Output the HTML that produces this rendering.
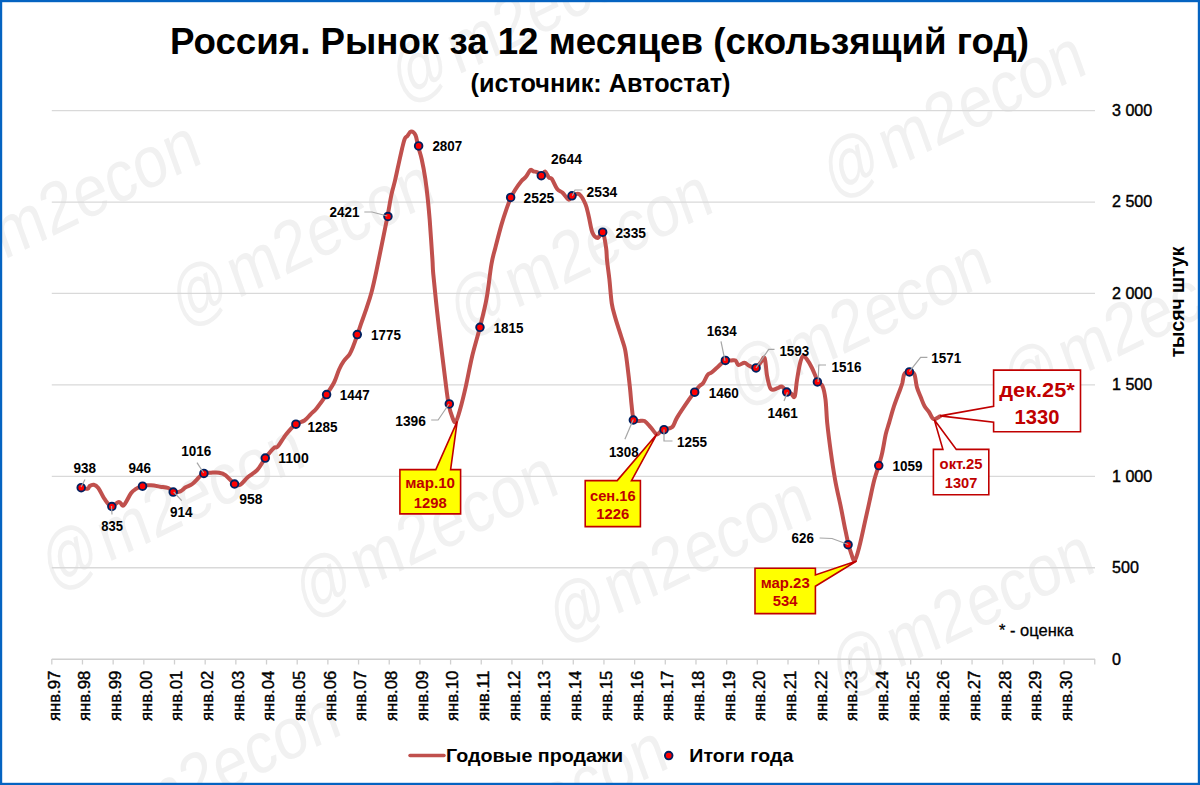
<!DOCTYPE html><html><head><meta charset="utf-8"><style>html,body{margin:0;padding:0;background:#fff;overflow:hidden;}svg{display:block;}text{font-family:"Liberation Sans",sans-serif;}</style></head><body>
<svg width="1200" height="785" viewBox="0 0 1200 785">
<rect x="0" y="0" width="1200" height="785" fill="#fff"/>
<g transform="translate(402.2 102.2) scale(1 1.16) rotate(-22.85)" fill="#f1f1f1" font-size="63"><text x="0" y="0" transform="scale(0.86 1)">@</text><text x="60.0" y="0" textLength="217.4" lengthAdjust="spacingAndGlyphs">m2econ</text></g>
<g transform="translate(833.8 197.7) scale(1 1.16) rotate(-22.85)" fill="#f1f1f1" font-size="63"><text x="0" y="0" transform="scale(0.86 1)">@</text><text x="60.0" y="0" textLength="217.4" lengthAdjust="spacingAndGlyphs">m2econ</text></g>
<g transform="translate(182.2 326.0) scale(1 1.16) rotate(-22.85)" fill="#f1f1f1" font-size="63"><text x="0" y="0" transform="scale(0.86 1)">@</text><text x="60.0" y="0" textLength="217.4" lengthAdjust="spacingAndGlyphs">m2econ</text></g>
<g transform="translate(460.5 336.0) scale(1 1.16) rotate(-22.85)" fill="#f1f1f1" font-size="63"><text x="0" y="0" transform="scale(0.86 1)">@</text><text x="60.0" y="0" textLength="217.4" lengthAdjust="spacingAndGlyphs">m2econ</text></g>
<g transform="translate(739.5 405.2) scale(1 1.16) rotate(-22.85)" fill="#f1f1f1" font-size="63"><text x="0" y="0" transform="scale(0.86 1)">@</text><text x="60.0" y="0" textLength="217.4" lengthAdjust="spacingAndGlyphs">m2econ</text></g>
<g transform="translate(1013.8 408.2) scale(1 1.16) rotate(-22.85)" fill="#f1f1f1" font-size="63"><text x="0" y="0" transform="scale(0.86 1)">@</text><text x="60.0" y="0" textLength="217.4" lengthAdjust="spacingAndGlyphs">m2econ</text></g>
<g transform="translate(52.5 589.7) scale(1 1.16) rotate(-22.85)" fill="#f1f1f1" font-size="63"><text x="0" y="0" transform="scale(0.86 1)">@</text><text x="60.0" y="0" textLength="217.4" lengthAdjust="spacingAndGlyphs">m2econ</text></g>
<g transform="translate(306.0 617.3) scale(1 1.16) rotate(-22.85)" fill="#f1f1f1" font-size="63"><text x="0" y="0" transform="scale(0.86 1)">@</text><text x="60.0" y="0" textLength="217.4" lengthAdjust="spacingAndGlyphs">m2econ</text></g>
<g transform="translate(559.8 642.5) scale(1 1.16) rotate(-22.85)" fill="#f1f1f1" font-size="63"><text x="0" y="0" transform="scale(0.86 1)">@</text><text x="60.0" y="0" textLength="217.4" lengthAdjust="spacingAndGlyphs">m2econ</text></g>
<g transform="translate(842.3 695.7) scale(1 1.16) rotate(-22.85)" fill="#f1f1f1" font-size="63"><text x="0" y="0" transform="scale(0.86 1)">@</text><text x="60.0" y="0" textLength="217.4" lengthAdjust="spacingAndGlyphs">m2econ</text></g>
<g transform="translate(88.5 858.5) scale(1 1.16) rotate(-22.85)" fill="#f1f1f1" font-size="63"><text x="0" y="0" transform="scale(0.86 1)">@</text><text x="60.0" y="0" textLength="217.4" lengthAdjust="spacingAndGlyphs">m2econ</text></g>
<g transform="translate(415.6 891.9) scale(1 1.16) rotate(-22.85)" fill="#f1f1f1" font-size="63"><text x="0" y="0" transform="scale(0.86 1)">@</text><text x="60.0" y="0" textLength="217.4" lengthAdjust="spacingAndGlyphs">m2econ</text></g>
<g transform="translate(-51.4 287.1) scale(1 1.16) rotate(-22.85)" fill="#f1f1f1" font-size="63"><text x="0" y="0" transform="scale(0.86 1)">@</text><text x="60.0" y="0" textLength="217.4" lengthAdjust="spacingAndGlyphs">m2econ</text></g>
<line x1="51.8" y1="110.60" x2="1095" y2="110.60" stroke="#d9d9d9" stroke-width="1.3"/>
<line x1="51.8" y1="202.03" x2="1095" y2="202.03" stroke="#d9d9d9" stroke-width="1.3"/>
<line x1="51.8" y1="293.47" x2="1095" y2="293.47" stroke="#d9d9d9" stroke-width="1.3"/>
<line x1="51.8" y1="384.90" x2="1095" y2="384.90" stroke="#d9d9d9" stroke-width="1.3"/>
<line x1="51.8" y1="476.33" x2="1095" y2="476.33" stroke="#d9d9d9" stroke-width="1.3"/>
<line x1="51.8" y1="567.77" x2="1095" y2="567.77" stroke="#d9d9d9" stroke-width="1.3"/>
<line x1="51.8" y1="659.20" x2="1095" y2="659.20" stroke="#d0d0d0" stroke-width="1.5"/>
<line x1="51.80" y1="659" x2="51.80" y2="664.5" stroke="#d0d0d0" stroke-width="1.3"/>
<line x1="82.47" y1="659" x2="82.47" y2="664.5" stroke="#d0d0d0" stroke-width="1.3"/>
<line x1="113.15" y1="659" x2="113.15" y2="664.5" stroke="#d0d0d0" stroke-width="1.3"/>
<line x1="143.82" y1="659" x2="143.82" y2="664.5" stroke="#d0d0d0" stroke-width="1.3"/>
<line x1="174.50" y1="659" x2="174.50" y2="664.5" stroke="#d0d0d0" stroke-width="1.3"/>
<line x1="205.18" y1="659" x2="205.18" y2="664.5" stroke="#d0d0d0" stroke-width="1.3"/>
<line x1="235.85" y1="659" x2="235.85" y2="664.5" stroke="#d0d0d0" stroke-width="1.3"/>
<line x1="266.52" y1="659" x2="266.52" y2="664.5" stroke="#d0d0d0" stroke-width="1.3"/>
<line x1="297.20" y1="659" x2="297.20" y2="664.5" stroke="#d0d0d0" stroke-width="1.3"/>
<line x1="327.88" y1="659" x2="327.88" y2="664.5" stroke="#d0d0d0" stroke-width="1.3"/>
<line x1="358.55" y1="659" x2="358.55" y2="664.5" stroke="#d0d0d0" stroke-width="1.3"/>
<line x1="389.23" y1="659" x2="389.23" y2="664.5" stroke="#d0d0d0" stroke-width="1.3"/>
<line x1="419.90" y1="659" x2="419.90" y2="664.5" stroke="#d0d0d0" stroke-width="1.3"/>
<line x1="450.58" y1="659" x2="450.58" y2="664.5" stroke="#d0d0d0" stroke-width="1.3"/>
<line x1="481.25" y1="659" x2="481.25" y2="664.5" stroke="#d0d0d0" stroke-width="1.3"/>
<line x1="511.93" y1="659" x2="511.93" y2="664.5" stroke="#d0d0d0" stroke-width="1.3"/>
<line x1="542.60" y1="659" x2="542.60" y2="664.5" stroke="#d0d0d0" stroke-width="1.3"/>
<line x1="573.27" y1="659" x2="573.27" y2="664.5" stroke="#d0d0d0" stroke-width="1.3"/>
<line x1="603.95" y1="659" x2="603.95" y2="664.5" stroke="#d0d0d0" stroke-width="1.3"/>
<line x1="634.62" y1="659" x2="634.62" y2="664.5" stroke="#d0d0d0" stroke-width="1.3"/>
<line x1="665.30" y1="659" x2="665.30" y2="664.5" stroke="#d0d0d0" stroke-width="1.3"/>
<line x1="695.98" y1="659" x2="695.98" y2="664.5" stroke="#d0d0d0" stroke-width="1.3"/>
<line x1="726.65" y1="659" x2="726.65" y2="664.5" stroke="#d0d0d0" stroke-width="1.3"/>
<line x1="757.32" y1="659" x2="757.32" y2="664.5" stroke="#d0d0d0" stroke-width="1.3"/>
<line x1="788.00" y1="659" x2="788.00" y2="664.5" stroke="#d0d0d0" stroke-width="1.3"/>
<line x1="818.67" y1="659" x2="818.67" y2="664.5" stroke="#d0d0d0" stroke-width="1.3"/>
<line x1="849.35" y1="659" x2="849.35" y2="664.5" stroke="#d0d0d0" stroke-width="1.3"/>
<line x1="880.02" y1="659" x2="880.02" y2="664.5" stroke="#d0d0d0" stroke-width="1.3"/>
<line x1="910.70" y1="659" x2="910.70" y2="664.5" stroke="#d0d0d0" stroke-width="1.3"/>
<line x1="941.38" y1="659" x2="941.38" y2="664.5" stroke="#d0d0d0" stroke-width="1.3"/>
<line x1="972.05" y1="659" x2="972.05" y2="664.5" stroke="#d0d0d0" stroke-width="1.3"/>
<line x1="1002.73" y1="659" x2="1002.73" y2="664.5" stroke="#d0d0d0" stroke-width="1.3"/>
<line x1="1033.40" y1="659" x2="1033.40" y2="664.5" stroke="#d0d0d0" stroke-width="1.3"/>
<line x1="1064.08" y1="659" x2="1064.08" y2="664.5" stroke="#d0d0d0" stroke-width="1.3"/>
<line x1="1094.75" y1="659" x2="1094.75" y2="664.5" stroke="#d0d0d0" stroke-width="1.3"/>
<text x="1112" y="116.00" font-size="16.1" fill="#000" stroke="#000" stroke-width="0.4">3 000</text>
<text x="1112" y="207.43" font-size="16.1" fill="#000" stroke="#000" stroke-width="0.4">2 500</text>
<text x="1112" y="298.87" font-size="16.1" fill="#000" stroke="#000" stroke-width="0.4">2 000</text>
<text x="1112" y="390.30" font-size="16.1" fill="#000" stroke="#000" stroke-width="0.4">1 500</text>
<text x="1112" y="481.73" font-size="16.1" fill="#000" stroke="#000" stroke-width="0.4">1 000</text>
<text x="1112" y="573.17" font-size="16.1" fill="#000" stroke="#000" stroke-width="0.4">500</text>
<text x="1112" y="664.60" font-size="16.1" fill="#000" stroke="#000" stroke-width="0.4">0</text>
<text x="1184" y="302" transform="rotate(-90 1184 302)" text-anchor="middle" font-size="20" font-weight="bold" fill="#000" textLength="110.7" lengthAdjust="spacingAndGlyphs">тысяч штук</text>
<text x="59.70" y="670.7" transform="rotate(-90 59.70 670.7)" text-anchor="end" font-size="16" fill="#000" stroke="#000" stroke-width="0.4" textLength="50.4" lengthAdjust="spacingAndGlyphs" dy="0">янв.97</text>
<text x="90.38" y="670.7" transform="rotate(-90 90.38 670.7)" text-anchor="end" font-size="16" fill="#000" stroke="#000" stroke-width="0.4" textLength="50.4" lengthAdjust="spacingAndGlyphs" dy="0">янв.98</text>
<text x="121.05" y="670.7" transform="rotate(-90 121.05 670.7)" text-anchor="end" font-size="16" fill="#000" stroke="#000" stroke-width="0.4" textLength="50.4" lengthAdjust="spacingAndGlyphs" dy="0">янв.99</text>
<text x="151.72" y="670.7" transform="rotate(-90 151.72 670.7)" text-anchor="end" font-size="16" fill="#000" stroke="#000" stroke-width="0.4" textLength="50.4" lengthAdjust="spacingAndGlyphs" dy="0">янв.00</text>
<text x="182.40" y="670.7" transform="rotate(-90 182.40 670.7)" text-anchor="end" font-size="16" fill="#000" stroke="#000" stroke-width="0.4" textLength="50.4" lengthAdjust="spacingAndGlyphs" dy="0">янв.01</text>
<text x="213.08" y="670.7" transform="rotate(-90 213.08 670.7)" text-anchor="end" font-size="16" fill="#000" stroke="#000" stroke-width="0.4" textLength="50.4" lengthAdjust="spacingAndGlyphs" dy="0">янв.02</text>
<text x="243.75" y="670.7" transform="rotate(-90 243.75 670.7)" text-anchor="end" font-size="16" fill="#000" stroke="#000" stroke-width="0.4" textLength="50.4" lengthAdjust="spacingAndGlyphs" dy="0">янв.03</text>
<text x="274.42" y="670.7" transform="rotate(-90 274.42 670.7)" text-anchor="end" font-size="16" fill="#000" stroke="#000" stroke-width="0.4" textLength="50.4" lengthAdjust="spacingAndGlyphs" dy="0">янв.04</text>
<text x="305.10" y="670.7" transform="rotate(-90 305.10 670.7)" text-anchor="end" font-size="16" fill="#000" stroke="#000" stroke-width="0.4" textLength="50.4" lengthAdjust="spacingAndGlyphs" dy="0">янв.05</text>
<text x="335.77" y="670.7" transform="rotate(-90 335.77 670.7)" text-anchor="end" font-size="16" fill="#000" stroke="#000" stroke-width="0.4" textLength="50.4" lengthAdjust="spacingAndGlyphs" dy="0">янв.06</text>
<text x="366.45" y="670.7" transform="rotate(-90 366.45 670.7)" text-anchor="end" font-size="16" fill="#000" stroke="#000" stroke-width="0.4" textLength="50.4" lengthAdjust="spacingAndGlyphs" dy="0">янв.07</text>
<text x="397.12" y="670.7" transform="rotate(-90 397.12 670.7)" text-anchor="end" font-size="16" fill="#000" stroke="#000" stroke-width="0.4" textLength="50.4" lengthAdjust="spacingAndGlyphs" dy="0">янв.08</text>
<text x="427.80" y="670.7" transform="rotate(-90 427.80 670.7)" text-anchor="end" font-size="16" fill="#000" stroke="#000" stroke-width="0.4" textLength="50.4" lengthAdjust="spacingAndGlyphs" dy="0">янв.09</text>
<text x="458.48" y="670.7" transform="rotate(-90 458.48 670.7)" text-anchor="end" font-size="16" fill="#000" stroke="#000" stroke-width="0.4" textLength="50.4" lengthAdjust="spacingAndGlyphs" dy="0">янв.10</text>
<text x="489.15" y="670.7" transform="rotate(-90 489.15 670.7)" text-anchor="end" font-size="16" fill="#000" stroke="#000" stroke-width="0.4" textLength="50.4" lengthAdjust="spacingAndGlyphs" dy="0">янв.11</text>
<text x="519.83" y="670.7" transform="rotate(-90 519.83 670.7)" text-anchor="end" font-size="16" fill="#000" stroke="#000" stroke-width="0.4" textLength="50.4" lengthAdjust="spacingAndGlyphs" dy="0">янв.12</text>
<text x="550.50" y="670.7" transform="rotate(-90 550.50 670.7)" text-anchor="end" font-size="16" fill="#000" stroke="#000" stroke-width="0.4" textLength="50.4" lengthAdjust="spacingAndGlyphs" dy="0">янв.13</text>
<text x="581.17" y="670.7" transform="rotate(-90 581.17 670.7)" text-anchor="end" font-size="16" fill="#000" stroke="#000" stroke-width="0.4" textLength="50.4" lengthAdjust="spacingAndGlyphs" dy="0">янв.14</text>
<text x="611.85" y="670.7" transform="rotate(-90 611.85 670.7)" text-anchor="end" font-size="16" fill="#000" stroke="#000" stroke-width="0.4" textLength="50.4" lengthAdjust="spacingAndGlyphs" dy="0">янв.15</text>
<text x="642.52" y="670.7" transform="rotate(-90 642.52 670.7)" text-anchor="end" font-size="16" fill="#000" stroke="#000" stroke-width="0.4" textLength="50.4" lengthAdjust="spacingAndGlyphs" dy="0">янв.16</text>
<text x="673.20" y="670.7" transform="rotate(-90 673.20 670.7)" text-anchor="end" font-size="16" fill="#000" stroke="#000" stroke-width="0.4" textLength="50.4" lengthAdjust="spacingAndGlyphs" dy="0">янв.17</text>
<text x="703.88" y="670.7" transform="rotate(-90 703.88 670.7)" text-anchor="end" font-size="16" fill="#000" stroke="#000" stroke-width="0.4" textLength="50.4" lengthAdjust="spacingAndGlyphs" dy="0">янв.18</text>
<text x="734.55" y="670.7" transform="rotate(-90 734.55 670.7)" text-anchor="end" font-size="16" fill="#000" stroke="#000" stroke-width="0.4" textLength="50.4" lengthAdjust="spacingAndGlyphs" dy="0">янв.19</text>
<text x="765.22" y="670.7" transform="rotate(-90 765.22 670.7)" text-anchor="end" font-size="16" fill="#000" stroke="#000" stroke-width="0.4" textLength="50.4" lengthAdjust="spacingAndGlyphs" dy="0">янв.20</text>
<text x="795.90" y="670.7" transform="rotate(-90 795.90 670.7)" text-anchor="end" font-size="16" fill="#000" stroke="#000" stroke-width="0.4" textLength="50.4" lengthAdjust="spacingAndGlyphs" dy="0">янв.21</text>
<text x="826.57" y="670.7" transform="rotate(-90 826.57 670.7)" text-anchor="end" font-size="16" fill="#000" stroke="#000" stroke-width="0.4" textLength="50.4" lengthAdjust="spacingAndGlyphs" dy="0">янв.22</text>
<text x="857.25" y="670.7" transform="rotate(-90 857.25 670.7)" text-anchor="end" font-size="16" fill="#000" stroke="#000" stroke-width="0.4" textLength="50.4" lengthAdjust="spacingAndGlyphs" dy="0">янв.23</text>
<text x="887.92" y="670.7" transform="rotate(-90 887.92 670.7)" text-anchor="end" font-size="16" fill="#000" stroke="#000" stroke-width="0.4" textLength="50.4" lengthAdjust="spacingAndGlyphs" dy="0">янв.24</text>
<text x="918.60" y="670.7" transform="rotate(-90 918.60 670.7)" text-anchor="end" font-size="16" fill="#000" stroke="#000" stroke-width="0.4" textLength="50.4" lengthAdjust="spacingAndGlyphs" dy="0">янв.25</text>
<text x="949.27" y="670.7" transform="rotate(-90 949.27 670.7)" text-anchor="end" font-size="16" fill="#000" stroke="#000" stroke-width="0.4" textLength="50.4" lengthAdjust="spacingAndGlyphs" dy="0">янв.26</text>
<text x="979.95" y="670.7" transform="rotate(-90 979.95 670.7)" text-anchor="end" font-size="16" fill="#000" stroke="#000" stroke-width="0.4" textLength="50.4" lengthAdjust="spacingAndGlyphs" dy="0">янв.27</text>
<text x="1010.62" y="670.7" transform="rotate(-90 1010.62 670.7)" text-anchor="end" font-size="16" fill="#000" stroke="#000" stroke-width="0.4" textLength="50.4" lengthAdjust="spacingAndGlyphs" dy="0">янв.28</text>
<text x="1041.30" y="670.7" transform="rotate(-90 1041.30 670.7)" text-anchor="end" font-size="16" fill="#000" stroke="#000" stroke-width="0.4" textLength="50.4" lengthAdjust="spacingAndGlyphs" dy="0">янв.29</text>
<text x="1071.98" y="670.7" transform="rotate(-90 1071.98 670.7)" text-anchor="end" font-size="16" fill="#000" stroke="#000" stroke-width="0.4" textLength="50.4" lengthAdjust="spacingAndGlyphs" dy="0">янв.30</text>
<text x="170" y="54" font-size="37" font-weight="bold" fill="#000" textLength="859" lengthAdjust="spacingAndGlyphs">Россия. Рынок за 12 месяцев (скользящий год)</text>
<text x="470.5" y="92" font-size="25" font-weight="bold" fill="#000" textLength="260" lengthAdjust="spacingAndGlyphs">(источник: Автостат)</text>
<path d="M80.6,488.0 C81.8,488.1 86.2,489.0 87.7,488.7 C89.2,488.4 88.7,486.7 89.7,486.0 C90.7,485.3 92.3,484.4 93.7,484.7 C95.1,485.0 96.5,485.7 98.3,488.0 C100.1,490.3 102.2,495.7 104.3,498.7 C106.4,501.7 108.5,505.4 111.0,506.0 C113.5,506.6 116.9,502.1 119.0,502.0 C121.1,501.9 121.7,506.8 123.7,505.3 C125.7,503.9 128.9,496.1 131.0,493.3 C133.1,490.5 134.4,490.0 136.3,488.7 C138.2,487.4 139.9,486.2 142.3,485.6 C144.8,485.0 148.0,485.1 151.0,485.3 C154.0,485.5 157.4,486.2 160.3,486.7 C163.2,487.1 166.1,487.1 168.3,488.0 C170.5,488.9 171.7,491.4 173.7,492.0 C175.7,492.6 178.3,492.1 180.3,491.3 C182.3,490.5 183.7,488.5 185.7,487.3 C187.7,486.1 190.1,485.7 192.3,484.0 C194.5,482.3 197.1,479.1 199.0,477.3 C200.9,475.5 201.7,473.8 203.7,473.0 C205.7,472.2 208.4,472.8 211.0,472.7 C213.6,472.6 216.6,472.3 219.0,472.7 C221.4,473.1 223.1,473.4 225.7,475.3 C228.3,477.2 232.1,482.3 234.5,483.9 C236.9,485.5 238.1,485.8 240.3,484.7 C242.6,483.6 245.2,479.4 248.0,477.0 C250.8,474.6 254.2,473.4 257.1,470.2 C260.0,467.0 262.7,461.6 265.5,457.9 C268.3,454.2 271.8,449.9 273.9,448.0 C275.9,446.1 275.8,448.8 277.8,446.5 C279.9,444.2 283.2,437.9 286.2,434.2 C289.2,430.5 292.6,426.6 295.6,424.3 C298.7,422.0 302.0,422.2 304.5,420.5 C307.0,418.8 308.6,416.4 310.6,414.3 C312.6,412.2 314.1,411.5 316.7,408.2 C319.3,404.9 323.6,399.0 326.5,394.6 C329.4,390.2 332.2,386.2 334.3,382.0 C336.4,377.8 337.5,373.0 339.1,369.5 C340.7,366.0 342.1,363.4 343.9,360.9 C345.6,358.3 348.0,356.8 349.6,354.2 C351.2,351.6 352.2,348.8 353.5,345.6 C354.8,342.4 356.0,338.8 357.3,335.1 C358.6,331.4 359.5,328.2 361.1,323.6 C362.7,319.0 365.1,312.7 366.8,307.4 C368.6,302.1 370.0,298.1 371.6,292.0 C373.2,285.9 374.6,279.5 376.4,271.0 C378.2,262.5 380.6,250.3 382.5,241.2 C384.4,232.1 386.0,224.0 387.5,216.3 C389.0,208.6 390.1,200.9 391.4,194.9 C392.6,188.9 393.8,185.7 395.0,180.6 C396.2,175.5 397.3,169.9 398.5,164.6 C399.7,159.2 401.1,152.8 402.1,148.5 C403.2,144.2 403.9,140.8 404.8,138.7 C405.7,136.6 406.4,137.2 407.4,136.0 C408.4,134.8 409.6,131.7 411.0,131.6 C412.4,131.5 414.3,132.7 415.5,135.2 C416.7,137.7 417.1,142.4 418.1,146.4 C419.1,150.4 420.5,153.8 421.7,159.2 C422.9,164.6 424.3,172.0 425.3,178.8 C426.3,185.6 427.2,193.4 427.9,200.2 C428.6,207.0 428.9,210.0 429.7,219.8 C430.4,229.6 431.8,249.9 432.4,259.0 C433.0,268.1 432.5,265.6 433.3,274.2 C434.1,282.8 435.6,297.6 437.0,310.5 C438.4,323.4 440.4,340.0 441.8,351.7 C443.2,363.4 444.3,372.1 445.4,380.8 C446.5,389.5 447.4,397.6 448.6,403.8 C449.8,410.1 451.5,415.3 452.7,418.3 C453.9,421.3 454.6,423.3 455.8,421.9 C457.0,420.5 458.3,415.9 460.0,409.8 C461.7,403.8 464.0,394.5 466.0,385.6 C468.0,376.7 469.8,366.3 472.1,356.5 C474.4,346.7 477.6,336.7 480.0,327.0 C482.4,317.3 484.7,308.8 486.6,298.4 C488.5,288.0 489.9,272.9 491.4,264.5 C492.8,256.1 493.6,254.5 495.3,247.9 C497.0,241.3 499.5,231.5 501.4,224.9 C503.3,218.3 505.2,212.7 506.8,208.1 C508.4,203.5 509.6,200.4 511.0,197.4 C512.4,194.4 513.5,192.5 515.2,189.8 C516.9,187.1 519.5,183.5 521.3,181.3 C523.1,179.1 524.4,178.7 525.9,176.8 C527.4,174.9 529.2,170.8 530.5,169.9 C531.8,169.0 532.4,171.0 533.5,171.4 C534.6,171.8 535.9,171.4 537.3,172.2 C538.6,173.0 540.3,176.1 541.6,176.0 C542.9,175.9 543.8,171.2 545.0,171.4 C546.2,171.7 547.6,176.2 548.8,177.5 C549.9,178.8 550.5,177.1 551.9,179.0 C553.3,180.9 555.4,186.7 557.2,189.0 C559.0,191.3 560.7,191.0 562.6,192.8 C564.5,194.6 567.1,199.2 568.7,199.7 C570.3,200.2 570.4,196.5 572.2,195.6 C574.0,194.7 577.2,192.9 579.4,194.3 C581.6,195.8 584.0,200.7 585.5,204.3 C587.0,207.9 587.5,211.0 588.6,215.7 C589.8,220.4 590.9,228.9 592.4,232.6 C593.9,236.3 596.0,237.9 597.7,237.9 C599.4,237.9 601.4,230.9 602.8,232.6 C604.2,234.3 605.4,243.3 606.1,247.9 C606.8,252.5 606.5,254.8 607.0,260.0 C607.5,265.2 608.6,272.1 609.4,279.4 C610.2,286.7 610.8,297.2 611.8,303.6 C612.8,310.1 613.8,312.5 615.4,318.1 C617.0,323.8 619.9,332.2 621.5,337.5 C623.1,342.8 624.1,344.8 625.1,349.6 C626.1,354.4 626.7,360.1 627.5,366.5 C628.3,372.9 629.3,381.8 630.0,388.3 C630.7,394.8 631.0,400.2 631.6,405.3 C632.2,410.4 632.5,416.5 633.6,419.1 C634.7,421.7 636.6,420.7 638.4,421.0 C640.2,421.3 642.5,420.0 644.5,421.0 C646.5,422.0 648.5,424.9 650.5,427.1 C652.5,429.3 655.0,433.5 656.6,434.3 C658.2,435.1 659.0,432.7 660.2,431.9 C661.4,431.1 661.8,430.3 663.8,429.5 C665.8,428.7 670.1,429.0 672.3,427.0 C674.5,425.0 674.4,422.0 677.2,417.4 C680.0,412.8 686.4,403.4 689.3,399.2 C692.2,395.0 693.0,394.2 694.7,392.0 C696.4,389.8 698.1,387.5 699.5,386.0 C700.9,384.5 701.8,384.9 703.2,383.0 C704.6,381.1 706.3,376.4 707.7,374.7 C709.1,372.9 709.9,373.8 711.5,372.5 C713.1,371.2 715.2,369.2 717.5,367.2 C719.8,365.2 722.8,361.6 725.0,360.5 C727.2,359.4 729.2,360.5 731.0,360.5 C732.8,360.5 734.2,359.8 735.5,360.5 C736.8,361.2 737.0,364.6 738.5,365.0 C740.0,365.4 742.8,362.6 744.5,362.7 C746.2,362.8 747.1,364.9 749.0,365.7 C750.9,366.5 753.7,368.3 755.7,367.7 C757.7,367.1 759.5,363.6 761.0,362.0 C762.5,360.4 763.7,355.9 764.7,358.2 C765.7,360.4 766.1,370.6 767.0,375.5 C767.9,380.4 769.0,385.1 770.0,387.5 C771.0,389.9 771.8,389.6 773.0,389.7 C774.2,389.8 776.0,388.7 777.5,388.2 C779.0,387.7 780.4,386.0 782.0,386.7 C783.6,387.4 785.7,391.2 787.2,392.3 C788.7,393.4 789.8,392.8 791.0,393.5 C792.2,394.2 793.7,398.8 794.7,396.5 C795.7,394.2 796.1,385.5 797.0,380.0 C797.9,374.5 799.0,367.5 800.0,363.5 C801.0,359.5 801.9,356.8 803.0,356.0 C804.1,355.2 805.2,357.0 806.7,359.0 C808.2,361.0 810.1,364.2 812.0,368.0 C813.9,371.8 816.2,378.5 818.0,381.5 C819.8,384.5 821.2,383.0 822.5,386.0 C823.8,389.0 824.7,393.4 825.5,399.5 C826.3,405.6 826.4,414.4 827.2,422.9 C828.1,431.4 829.3,440.9 830.6,450.5 C831.9,460.1 833.5,470.8 835.2,480.3 C836.9,489.9 839.3,499.4 841.0,507.8 C842.7,516.2 844.2,524.6 845.5,530.7 C846.8,536.8 847.5,540.7 848.5,544.5 C849.5,548.3 850.3,551.0 851.3,553.7 C852.3,556.4 853.4,561.8 854.7,560.6 C856.0,559.5 857.6,553.3 859.3,546.8 C861.0,540.3 863.3,529.2 865.0,521.6 C866.7,514.0 868.1,507.8 869.6,500.9 C871.1,494.0 872.7,486.2 874.2,480.3 C875.7,474.4 877.5,470.0 878.8,465.4 C880.1,460.8 881.1,458.0 882.2,452.8 C883.4,447.6 884.6,439.4 885.7,434.4 C886.9,429.4 887.7,427.6 889.1,422.9 C890.5,418.2 892.3,411.3 894.0,406.2 C895.7,401.1 897.7,396.0 899.1,392.2 C900.5,388.4 901.4,386.3 902.3,383.3 C903.1,380.3 903.0,376.3 904.2,374.4 C905.4,372.4 907.9,371.6 909.6,371.6 C911.3,371.6 913.2,371.8 914.4,374.4 C915.6,377.0 915.8,383.3 916.9,387.1 C918.0,390.9 919.5,394.1 920.8,397.3 C922.1,400.5 923.2,403.8 924.6,406.2 C926.0,408.6 927.5,409.9 929.0,412.0 C930.5,414.1 931.7,418.3 933.5,419.0 C935.3,419.7 938.8,416.8 939.9,416.4" fill="none" stroke="#c0504d" stroke-width="4" stroke-linejoin="round" stroke-linecap="round"/>
<circle cx="81.20" cy="487.67" r="3.8" fill="#ff0000" stroke="#002060" stroke-width="1.9"/>
<circle cx="111.87" cy="506.51" r="3.8" fill="#ff0000" stroke="#002060" stroke-width="1.9"/>
<circle cx="142.55" cy="486.21" r="3.8" fill="#ff0000" stroke="#002060" stroke-width="1.9"/>
<circle cx="173.22" cy="492.06" r="3.8" fill="#ff0000" stroke="#002060" stroke-width="1.9"/>
<circle cx="203.90" cy="473.41" r="3.8" fill="#ff0000" stroke="#002060" stroke-width="1.9"/>
<circle cx="234.57" cy="484.01" r="3.8" fill="#ff0000" stroke="#002060" stroke-width="1.9"/>
<circle cx="265.25" cy="458.05" r="3.8" fill="#ff0000" stroke="#002060" stroke-width="1.9"/>
<circle cx="295.92" cy="424.22" r="3.8" fill="#ff0000" stroke="#002060" stroke-width="1.9"/>
<circle cx="326.60" cy="394.59" r="3.8" fill="#ff0000" stroke="#002060" stroke-width="1.9"/>
<circle cx="357.27" cy="334.61" r="3.8" fill="#ff0000" stroke="#002060" stroke-width="1.9"/>
<circle cx="387.95" cy="216.48" r="3.8" fill="#ff0000" stroke="#002060" stroke-width="1.9"/>
<circle cx="418.62" cy="145.89" r="3.8" fill="#ff0000" stroke="#002060" stroke-width="1.9"/>
<circle cx="449.30" cy="403.92" r="3.8" fill="#ff0000" stroke="#002060" stroke-width="1.9"/>
<circle cx="479.97" cy="327.30" r="3.8" fill="#ff0000" stroke="#002060" stroke-width="1.9"/>
<circle cx="510.65" cy="197.46" r="3.8" fill="#ff0000" stroke="#002060" stroke-width="1.9"/>
<circle cx="541.32" cy="175.70" r="3.8" fill="#ff0000" stroke="#002060" stroke-width="1.9"/>
<circle cx="572.00" cy="195.82" r="3.8" fill="#ff0000" stroke="#002060" stroke-width="1.9"/>
<circle cx="602.67" cy="232.21" r="3.8" fill="#ff0000" stroke="#002060" stroke-width="1.9"/>
<circle cx="633.35" cy="420.01" r="3.8" fill="#ff0000" stroke="#002060" stroke-width="1.9"/>
<circle cx="664.02" cy="429.70" r="3.8" fill="#ff0000" stroke="#002060" stroke-width="1.9"/>
<circle cx="694.70" cy="392.21" r="3.8" fill="#ff0000" stroke="#002060" stroke-width="1.9"/>
<circle cx="725.37" cy="360.40" r="3.8" fill="#ff0000" stroke="#002060" stroke-width="1.9"/>
<circle cx="756.05" cy="367.89" r="3.8" fill="#ff0000" stroke="#002060" stroke-width="1.9"/>
<circle cx="786.72" cy="392.03" r="3.8" fill="#ff0000" stroke="#002060" stroke-width="1.9"/>
<circle cx="817.40" cy="381.97" r="3.8" fill="#ff0000" stroke="#002060" stroke-width="1.9"/>
<circle cx="848.07" cy="544.73" r="3.8" fill="#ff0000" stroke="#002060" stroke-width="1.9"/>
<circle cx="878.75" cy="465.54" r="3.8" fill="#ff0000" stroke="#002060" stroke-width="1.9"/>
<circle cx="909.42" cy="371.92" r="3.8" fill="#ff0000" stroke="#002060" stroke-width="1.9"/>
<path d="M81,487 L85,479.5" fill="none" stroke="#a6a6a6" stroke-width="1.2"/>
<path d="M111.5,506 L112,514.5" fill="none" stroke="#a6a6a6" stroke-width="1.2"/>
<path d="M173.7,492 L181.7,500.7" fill="none" stroke="#a6a6a6" stroke-width="1.2"/>
<path d="M197,462.7 L203.7,473" fill="none" stroke="#a6a6a6" stroke-width="1.2"/>
<path d="M364.3,212 L372,212 L387.3,216" fill="none" stroke="#a6a6a6" stroke-width="1.2"/>
<path d="M431.2,420 L438.1,420 L449,404" fill="none" stroke="#a6a6a6" stroke-width="1.2"/>
<path d="M633.3,419.6 L624.9,439.2" fill="none" stroke="#a6a6a6" stroke-width="1.2"/>
<path d="M664,429.4 L664,441 L672.5,441" fill="none" stroke="#a6a6a6" stroke-width="1.2"/>
<path d="M721,341.3 L725,360.9" fill="none" stroke="#a6a6a6" stroke-width="1.2"/>
<path d="M756,367.8 L768.7,349.4 L774.5,349.4" fill="none" stroke="#a6a6a6" stroke-width="1.2"/>
<path d="M787.5,392.3 L784,401" fill="none" stroke="#a6a6a6" stroke-width="1.2"/>
<path d="M818.1,381.9 L818.8,365 L826,365" fill="none" stroke="#a6a6a6" stroke-width="1.2"/>
<path d="M819.6,538 L832,538.5 L848.3,544.5" fill="none" stroke="#a6a6a6" stroke-width="1.2"/>
<path d="M909.4,371.7 L920.6,357.3 L927.4,357.3" fill="none" stroke="#a6a6a6" stroke-width="1.2"/>
<path d="M572.3,195.7 L575,190 L582.4,190" fill="none" stroke="#a6a6a6" stroke-width="1.2"/>
<text x="73.50" y="473.40" font-size="14.2" font-weight="bold" fill="#000" textLength="22.50" lengthAdjust="spacingAndGlyphs">938</text>
<text x="101.25" y="531.15" font-size="14.2" font-weight="bold" fill="#000" textLength="21.75" lengthAdjust="spacingAndGlyphs">835</text>
<text x="128.50" y="473.40" font-size="14.2" font-weight="bold" fill="#000" textLength="22.50" lengthAdjust="spacingAndGlyphs">946</text>
<text x="170.00" y="517.40" font-size="14.2" font-weight="bold" fill="#000" textLength="22.50" lengthAdjust="spacingAndGlyphs">914</text>
<text x="181.25" y="456.15" font-size="14.2" font-weight="bold" fill="#000" textLength="30.00" lengthAdjust="spacingAndGlyphs">1016</text>
<text x="239.25" y="504.40" font-size="14.2" font-weight="bold" fill="#000" textLength="23.25" lengthAdjust="spacingAndGlyphs">958</text>
<text x="278.25" y="463.15" font-size="14.2" font-weight="bold" fill="#000" textLength="30.50" lengthAdjust="spacingAndGlyphs">1100</text>
<text x="307.50" y="432.40" font-size="14.2" font-weight="bold" fill="#000" textLength="30.00" lengthAdjust="spacingAndGlyphs">1285</text>
<text x="339.80" y="399.70" font-size="14.2" font-weight="bold" fill="#000" textLength="29.80" lengthAdjust="spacingAndGlyphs">1447</text>
<text x="371.10" y="339.80" font-size="14.2" font-weight="bold" fill="#000" textLength="29.80" lengthAdjust="spacingAndGlyphs">1775</text>
<text x="329.50" y="217.40" font-size="14.2" font-weight="bold" fill="#000" textLength="29.90" lengthAdjust="spacingAndGlyphs">2421</text>
<text x="432.40" y="151.20" font-size="14.2" font-weight="bold" fill="#000" textLength="29.80" lengthAdjust="spacingAndGlyphs">2807</text>
<text x="395.30" y="425.50" font-size="14.2" font-weight="bold" fill="#000" textLength="30.60" lengthAdjust="spacingAndGlyphs">1396</text>
<text x="493.60" y="332.90" font-size="14.2" font-weight="bold" fill="#000" textLength="29.90" lengthAdjust="spacingAndGlyphs">1815</text>
<text x="523.50" y="203.00" font-size="14.2" font-weight="bold" fill="#000" textLength="30.80" lengthAdjust="spacingAndGlyphs">2525</text>
<text x="551.10" y="164.40" font-size="14.2" font-weight="bold" fill="#000" textLength="30.80" lengthAdjust="spacingAndGlyphs">2644</text>
<text x="586.50" y="197.10" font-size="14.2" font-weight="bold" fill="#000" textLength="30.80" lengthAdjust="spacingAndGlyphs">2534</text>
<text x="615.40" y="238.10" font-size="14.2" font-weight="bold" fill="#000" textLength="30.60" lengthAdjust="spacingAndGlyphs">2335</text>
<text x="608.90" y="456.60" font-size="14.2" font-weight="bold" fill="#000" textLength="29.70" lengthAdjust="spacingAndGlyphs">1308</text>
<text x="677.00" y="446.80" font-size="14.2" font-weight="bold" fill="#000" textLength="30.00" lengthAdjust="spacingAndGlyphs">1255</text>
<text x="708.70" y="398.20" font-size="14.2" font-weight="bold" fill="#000" textLength="30.20" lengthAdjust="spacingAndGlyphs">1460</text>
<text x="706.80" y="335.50" font-size="14.2" font-weight="bold" fill="#000" textLength="29.80" lengthAdjust="spacingAndGlyphs">1634</text>
<text x="779.40" y="355.90" font-size="14.2" font-weight="bold" fill="#000" textLength="29.80" lengthAdjust="spacingAndGlyphs">1593</text>
<text x="767.60" y="418.10" font-size="14.2" font-weight="bold" fill="#000" textLength="30.10" lengthAdjust="spacingAndGlyphs">1461</text>
<text x="831.40" y="371.50" font-size="14.2" font-weight="bold" fill="#000" textLength="30.00" lengthAdjust="spacingAndGlyphs">1516</text>
<text x="791.60" y="543.40" font-size="14.2" font-weight="bold" fill="#000" textLength="22.30" lengthAdjust="spacingAndGlyphs">626</text>
<text x="892.40" y="470.60" font-size="14.2" font-weight="bold" fill="#000" textLength="30.00" lengthAdjust="spacingAndGlyphs">1059</text>
<text x="931.30" y="363.30" font-size="14.2" font-weight="bold" fill="#000" textLength="30.00" lengthAdjust="spacingAndGlyphs">1571</text>
<path d="M399.9,469.6 L435.8,469.6 L457.2,421.4 L450.6,469.6 L460.6,469.6 L460.6,513.9 L399.9,513.9 Z" fill="#ffff00" stroke="#c00000" stroke-width="1.6" stroke-linejoin="miter"/>
<text x="430.2" y="488.19" text-anchor="middle" font-size="14.5" font-weight="bold" fill="#c00000" textLength="49.7" lengthAdjust="spacingAndGlyphs">мар.10</text>
<text x="430.2" y="507.59" text-anchor="middle" font-size="14.5" font-weight="bold" fill="#c00000" textLength="32.9" lengthAdjust="spacingAndGlyphs">1298</text>
<path d="M585.2,480.6 L617.2,480.6 L657,433.9 L631.5,480.6 L640.4,480.6 L640.4,526.6 L585.2,526.6 Z" fill="#ffff00" stroke="#c00000" stroke-width="1.6" stroke-linejoin="miter"/>
<text x="612.8" y="500.59" text-anchor="middle" font-size="14.5" font-weight="bold" fill="#c00000" textLength="45.5" lengthAdjust="spacingAndGlyphs">сен.16</text>
<text x="612.8" y="519.19" text-anchor="middle" font-size="14.5" font-weight="bold" fill="#c00000" textLength="33" lengthAdjust="spacingAndGlyphs">1226</text>
<path d="M755,568.2 L815.4,568.2 L815.4,575 L856.6,561 L815.4,586.2 L815.4,613.6 L755,613.6 Z" fill="#ffff00" stroke="#c00000" stroke-width="1.6" stroke-linejoin="miter"/>
<text x="785.2" y="587.59" text-anchor="middle" font-size="14.5" font-weight="bold" fill="#c00000" textLength="49" lengthAdjust="spacingAndGlyphs">мар.23</text>
<text x="785.2" y="606.09" text-anchor="middle" font-size="14.5" font-weight="bold" fill="#c00000" textLength="24.7" lengthAdjust="spacingAndGlyphs">534</text>
<path d="M993.6,370.1 L1080.5,370.1 L1080.5,431.8 L993.6,431.8 L993.6,422.2 L940.1,415.9 L993.6,406.4 Z" fill="#ffffff" stroke="#c00000" stroke-width="1.6" stroke-linejoin="miter"/>
<text x="1037" y="396.72" text-anchor="middle" font-size="21" font-weight="bold" fill="#c00000" textLength="75.5" lengthAdjust="spacingAndGlyphs">дек.25*</text>
<text x="1037" y="423.52" text-anchor="middle" font-size="21" font-weight="bold" fill="#c00000" textLength="44.9" lengthAdjust="spacingAndGlyphs">1330</text>
<path d="M933.4,449.4 L942.9,449.4 L934.3,419.7 L956.3,449.4 L988.8,449.4 L988.8,494.8 L933.4,494.8 Z" fill="#ffffff" stroke="#c00000" stroke-width="1.6" stroke-linejoin="miter"/>
<text x="961.1" y="468.89" text-anchor="middle" font-size="14.5" font-weight="bold" fill="#c00000" textLength="43" lengthAdjust="spacingAndGlyphs">окт.25</text>
<text x="961.1" y="487.99" text-anchor="middle" font-size="14.5" font-weight="bold" fill="#c00000" textLength="32.5" lengthAdjust="spacingAndGlyphs">1307</text>
<text x="999" y="635.5" font-size="17" fill="#000" stroke="#000" stroke-width="0.3" textLength="74.5" lengthAdjust="spacingAndGlyphs">* - оценка</text>
<line x1="410" y1="755.4" x2="444" y2="755.4" stroke="#c0504d" stroke-width="3.5" stroke-linecap="round"/>
<text x="446" y="761.6" font-size="19" font-weight="bold" fill="#000" textLength="177" lengthAdjust="spacingAndGlyphs">Годовые продажи</text>
<circle cx="668.7" cy="755.6" r="3.8" fill="#ff0000" stroke="#002060" stroke-width="1.9"/>
<text x="689.3" y="761.6" font-size="19" font-weight="bold" fill="#000" textLength="104" lengthAdjust="spacingAndGlyphs">Итоги года</text>
<rect x="1.1" y="1.1" width="1197.8" height="782.8" fill="none" stroke="#0563c1" stroke-width="2.2"/>
</svg></body></html>
